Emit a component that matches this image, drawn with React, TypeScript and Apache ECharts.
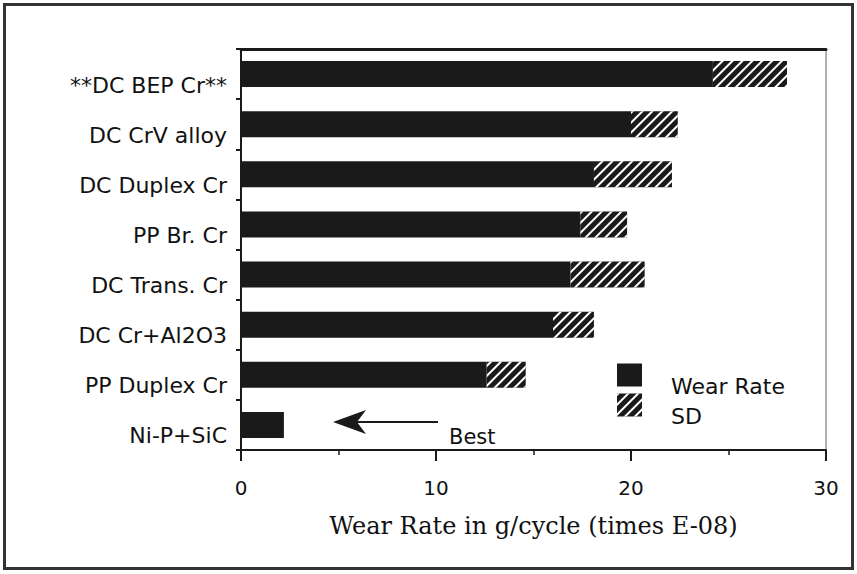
import React, { useEffect, useRef } from "react";
import * as echarts from "echarts";

const categories = [
  "**DC BEP Cr**",
  "DC CrV alloy",
  "DC Duplex Cr",
  "PP Br. Cr",
  "DC Trans. Cr",
  "DC Cr+Al2O3",
  "PP Duplex Cr",
  "Ni-P+SiC",
];
const wearRate = [24.2, 20.0, 18.1, 17.4, 16.9, 16.0, 12.6, 2.2];
const sdValues = [3.8, 2.4, 4.0, 2.4, 3.8, 2.1, 2.0, 0];
const xTicks = { min: 0, max: 30, interval: 10 };
const xTitle = "Wear Rate in g/cycle (times E-08)";
const seriesNames = ["Wear Rate", "SD"];

const SANS = "DejaVu Sans";
const SERIF = "DejaVu Serif";
const INK = "#1a1a1a";

export default function App() {
  const ref = useRef<HTMLDivElement>(null);
  useEffect(() => {
    if (!ref.current) return;
    const chart = echarts.init(ref.current, undefined, { renderer: "svg" });
    const hatch = {
      symbol: "rect",
      symbolSize: 1,
      color: "#ffffff",
      dashArrayX: [1, 0],
      dashArrayY: [2, 5],
      rotation: -Math.PI / 4,
    };
    const legendBase = {
      orient: "vertical",
      left: 617,
      itemWidth: 25,
      itemHeight: 23,
      padding: 0,
      icon: "rect",
      selectedMode: false,
      formatter: (name: string) => "\n" + name,
      textStyle: {
        fontFamily: SANS,
        fontSize: 22,
        lineHeight: 22,
        color: "#111",
        padding: [0, 0, 0, 24],
      },
    };
    chart.setOption({
      animation: false,
      backgroundColor: "#ffffff",
      grid: {
        left: 241,
        right: 31,
        top: 49,
        bottom: 124,
        show: true,
        borderColor: "#666",
        borderWidth: 1,
      },
      legend: [
        { ...legendBase, top: 353, data: [seriesNames[0]] },
        { ...legendBase, top: 383, data: [seriesNames[1]] },
      ],
      xAxis: [
        {
          type: "value",
          min: xTicks.min,
          max: xTicks.max,
          interval: xTicks.interval,
          position: "bottom",
          name: xTitle,
          nameLocation: "middle",
          nameGap: 64,
          nameTextStyle: { fontFamily: SERIF, fontSize: 24, color: "#111" },
          axisLine: { show: true, lineStyle: { color: INK, width: 2 } },
          axisTick: { show: true, length: 11, lineStyle: { color: INK, width: 2 } },
          minorTick: { show: true, splitNumber: 2, length: 5, lineStyle: { color: INK, width: 1.5 } },
          splitLine: { show: false },
          axisLabel: { fontFamily: SANS, fontSize: 20, color: "#111", margin: 28 },
        },
        {
          type: "value",
          min: xTicks.min,
          max: xTicks.max,
          position: "top",
          axisLine: { show: true, lineStyle: { color: INK, width: 3 } },
          axisTick: { show: false },
          axisLabel: { show: false },
          splitLine: { show: false },
        },
      ],
      yAxis: {
        type: "category",
        data: categories,
        inverse: true,
        axisLine: { show: true, lineStyle: { color: INK, width: 2 } },
        axisTick: { show: true, length: 5, lineStyle: { color: INK, width: 2 } },
        axisLabel: {
          fontFamily: SANS,
          fontSize: 22,
          lineHeight: 22,
          color: "#111",
          margin: 14,
          verticalAlign: "top",
        },
        splitLine: { show: false },
      },
      series: [
        {
          name: seriesNames[0],
          type: "bar",
          stack: "total",
          barWidth: 26,
          data: wearRate,
          itemStyle: { color: INK },
        },
        {
          name: seriesNames[1],
          type: "bar",
          stack: "total",
          barWidth: 26,
          data: sdValues,
          itemStyle: { color: INK, decal: hatch },
        },
      ],
      graphic: [
        {
          type: "rect",
          shape: { x: 4.5, y: 4.5, width: 848, height: 564 },
          style: { fill: "none", stroke: "#333", lineWidth: 3 },
          silent: true,
        },
        {
          type: "line",
          shape: { x1: 355, y1: 422, x2: 438, y2: 422 },
          style: { stroke: INK, lineWidth: 2 },
        },
        {
          type: "polygon",
          shape: { points: [[333, 422], [366, 410], [357, 422], [366, 434]] },
          style: { fill: INK },
        },
        {
          type: "text",
          x: 449,
          y: 437,
          style: {
            text: "Best",
            fontFamily: SANS,
            fontSize: 21,
            fill: "#111",
            verticalAlign: "middle",
          },
        },
      ],
    });
    return () => chart.dispose();
  }, []);
  return (
    <div
      ref={ref}
      style={{ position: "fixed", left: 0, top: 0, width: 857, height: 574 }}
    />
  );
}
